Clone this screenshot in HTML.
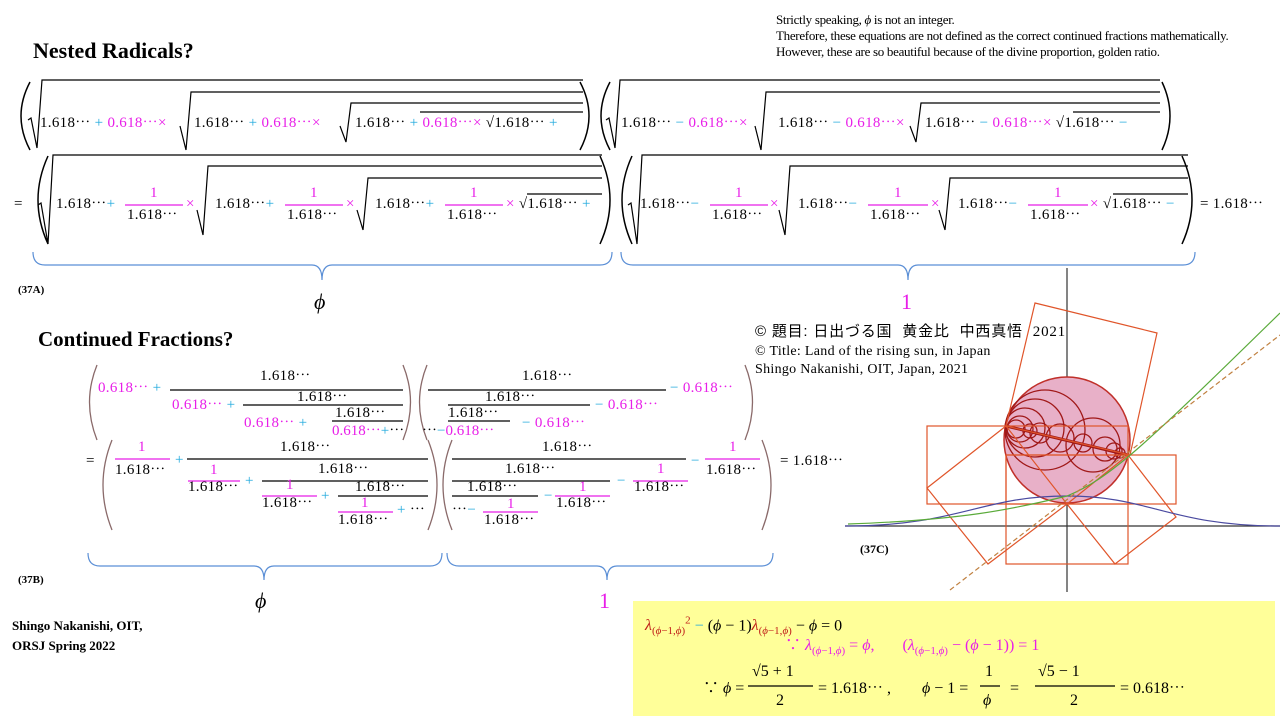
<!DOCTYPE html>
<html><head><meta charset="utf-8"><style>
body{margin:0;width:1280px;height:720px;background:#fff;position:relative;overflow:hidden;font-family:"Liberation Serif","Noto Serif CJK SC",serif;}
.t{position:absolute;white-space:nowrap;font-size:15px;letter-spacing:0.3px;line-height:16px;margin-top:-8px;color:#000;}
.m{color:#e81ee8}.c{color:#22aadd}.r{color:#c0201a}
.b{font-weight:bold;letter-spacing:0}
.i{font-style:italic}
svg{position:absolute;left:0;top:0}
.y{font-size:16px;line-height:20px;margin-top:-10px;letter-spacing:0}
</style></head><body>
<svg width="1280" height="720" viewBox="0 0 1280 720" fill="none" stroke="#000" stroke-width="1.2">
<rect x="633" y="601" width="642" height="115" fill="#ffff99" stroke="none"/>
<g stroke-width="1.5">
<path d="M30 82 Q12 116 30 150"/><path d="M580 82 Q598 116 580 150"/>
<path d="M610 82 Q592 116 610 150"/><path d="M1162 82 Q1178 116 1162 150"/>
<path d="M48 156 Q28 200 48 244"/><path d="M600 156 Q620 200 600 244"/>
<path d="M632 156 Q612 200 632 244"/><path d="M1182 156 Q1202 200 1182 244"/>
</g>
<polyline points="28,120 31,118 37,148 42,80 583,80"/>
<polyline points="180,126 186,150 191,92 583,92"/>
<polyline points="340,126 346,142 351,103 583,103"/>
<line x1="420" y1="112" x2="583" y2="112"/>
<polyline points="606,120 609,118 615,148 620,80 1160,80"/>
<polyline points="755,126 761,150 766,92 1160,92"/>
<polyline points="910,126 916,142 921,103 1160,103"/>
<line x1="1073" y1="112" x2="1160" y2="112"/>
<polyline points="38,205 41,203 48,244 53,155 602,155"/>
<polyline points="197,210 203,235 208,166 602,166"/>
<polyline points="357,210 363,230 368,178 602,178"/>
<line x1="527" y1="194" x2="602" y2="194"/>
<polyline points="628,205 631,203 637,244 642,155 1188,155"/>
<polyline points="779,210 785,235 790,166 1188,166"/>
<polyline points="939,210 945,230 950,178 1188,178"/>
<line x1="1113" y1="194" x2="1188" y2="194"/>
<g stroke="#e81ee8"><line x1="125" y1="205" x2="183" y2="205"/><line x1="285" y1="205" x2="343" y2="205"/><line x1="445" y1="205" x2="503" y2="205"/>
<line x1="710" y1="205" x2="768" y2="205"/><line x1="868" y1="205" x2="928" y2="205"/><line x1="1028" y1="205" x2="1088" y2="205"/></g>
<g stroke="#5b8fd6">
<path d="M33 252 Q33 265 45 265 L312 265 Q322 265 322 280 Q322 265 332 265 L600 265 Q612 265 612 252"/>
<path d="M621 252 Q621 265 633 265 L898 265 Q908 265 908 280 Q908 265 918 265 L1183 265 Q1195 265 1195 252"/>
<path d="M88 553 Q88 566 100 566 L254 566 Q264 566 264 580 Q264 566 274 566 L430 566 Q442 566 442 553"/>
<path d="M447 553 Q447 566 459 566 L597 566 Q607 566 607 580 Q607 566 617 566 L761 566 Q773 566 773 553"/>
</g>
<g stroke="#8a6a6a" stroke-width="1.3">
<path d="M97 365 Q82 402 97 440"/><path d="M403 365 Q418 402 403 440"/>
<path d="M427 365 Q412 402 427 440"/><path d="M745 365 Q760 402 745 440"/>
<path d="M112 440 Q94 485 112 530"/><path d="M428 440 Q446 485 428 530"/>
<path d="M452 440 Q434 485 452 530"/><path d="M762 440 Q780 485 762 530"/>
</g>
<line x1="170" y1="390" x2="403" y2="390"/><line x1="243" y1="405" x2="403" y2="405"/><line x1="332" y1="421" x2="403" y2="421"/>
<line x1="428" y1="390" x2="666" y2="390"/><line x1="448" y1="405" x2="590" y2="405"/><line x1="448" y1="421" x2="510" y2="421"/>
<line x1="187" y1="459" x2="428" y2="459"/><line x1="262" y1="481" x2="428" y2="481"/><line x1="338" y1="496" x2="428" y2="496"/>
<line x1="452" y1="459" x2="686" y2="459"/><line x1="452" y1="481" x2="610" y2="481"/><line x1="452" y1="496" x2="538" y2="496"/>
<g stroke="#e81ee8"><line x1="115" y1="459" x2="170" y2="459"/><line x1="188" y1="481" x2="240" y2="481"/><line x1="262" y1="496" x2="317" y2="496"/><line x1="338" y1="512" x2="393" y2="512"/>
<line x1="705" y1="459" x2="760" y2="459"/><line x1="633" y1="481" x2="688" y2="481"/><line x1="555" y1="496" x2="610" y2="496"/><line x1="483" y1="512" x2="538" y2="512"/></g>
<line x1="748" y1="686" x2="813" y2="686"/><line x1="980" y1="686" x2="1000" y2="686"/><line x1="1035" y1="686" x2="1115" y2="686"/>
<line x1="1067" y1="268" x2="1067" y2="592" stroke="#333"/>
<line x1="845" y1="526" x2="1280" y2="526" stroke="#333"/>
<circle cx="1067" cy="440" r="63" fill="#e8b0c8" stroke="#c0302a" stroke-width="1.5"/>
<g stroke="#a01818" stroke-width="1.3">
<circle cx="1045" cy="430" r="40"/><circle cx="1035" cy="428" r="29"/><circle cx="1025" cy="428" r="20"/><circle cx="1020" cy="429" r="13"/><circle cx="1016" cy="429" r="9"/>
<circle cx="1093" cy="445" r="27"/><circle cx="1060" cy="438" r="14"/><circle cx="1040" cy="433" r="10"/><circle cx="1030" cy="431" r="7"/>
<circle cx="1105" cy="449" r="12"/><circle cx="1114" cy="451" r="8"/><circle cx="1120" cy="453" r="5"/><circle cx="1083" cy="443" r="9"/>
<line x1="1006" y1="426" x2="1128" y2="455" stroke-width="3"/>
</g>
<g stroke="#e0552a" stroke-width="1.2">
<polygon points="1035,303 1157,333 1130,455 1006,426"/>
<rect x="927" y="426" width="201" height="78"/>
<rect x="1006" y="455" width="170" height="49"/>
<rect x="1006" y="455" width="122" height="109"/>
<polygon points="927,488 1006,426 1067,504 988,564"/>
<polygon points="1128,455 1176,517 1115,564 1067,504"/>
</g>
<path d="M845 526 C960 526 980 496 1067 496 C1150 496 1170 526 1280 526" stroke="#4a4aa0"/>
<path d="M848 524 C960 520 1010 510 1067 496 C1110 478 1140 450 1280 313" stroke="#5aaa3a"/>
<line x1="950" y1="590" x2="1280" y2="335" stroke="#c08040" stroke-dasharray="5,3"/>
</svg>

<div class="t" style="left:776px;top:20px;font-size:13px;letter-spacing:-0.3px">Strictly speaking, <i>ϕ</i> is not an integer.</div>
<div class="t" style="left:776px;top:36px;font-size:13px;letter-spacing:-0.3px">Therefore,  these equations are not defined as the correct continued fractions mathematically.</div>
<div class="t" style="left:776px;top:52px;font-size:13px;letter-spacing:-0.3px">However,  these are so beautiful because of the divine proportion, golden ratio.</div>
<div class="t b" style="left:33px;top:51px;font-size:22px;line-height:26px;margin-top:-13px">Nested Radicals?</div>
<div class="t b" style="left:38px;top:339px;font-size:21px;line-height:26px;margin-top:-13px">Continued Fractions?</div>

<div class="t" style="left:40px;top:123px">1.618⋯<span class="c"> + </span><span class="m">0.618⋯×</span></div>
<div class="t" style="left:194px;top:123px">1.618⋯<span class="c"> + </span><span class="m">0.618⋯×</span></div>
<div class="t" style="left:355px;top:123px">1.618⋯<span class="c"> + </span><span class="m">0.618⋯×</span> √1.618⋯<span class="c"> +</span></div>
<div class="t" style="left:621px;top:123px">1.618⋯<span class="c"> − </span><span class="m">0.618⋯×</span></div>
<div class="t" style="left:778px;top:123px">1.618⋯<span class="c"> − </span><span class="m">0.618⋯×</span></div>
<div class="t" style="left:925px;top:123px">1.618⋯<span class="c"> − </span><span class="m">0.618⋯×</span> √1.618⋯<span class="c"> −</span></div>

<div class="t" style="left:14px;top:204px">=</div>
<div class="t" style="left:56px;top:204px">1.618⋯<span class="c">+</span></div>
<div class="t m" style="left:150px;top:193px">1</div><div class="t" style="left:127px;top:215px">1.618⋯</div>
<div class="t m" style="left:186px;top:204px">×</div>
<div class="t" style="left:215px;top:204px">1.618⋯<span class="c">+</span></div>
<div class="t m" style="left:310px;top:193px">1</div><div class="t" style="left:287px;top:215px">1.618⋯</div>
<div class="t m" style="left:346px;top:204px">×</div>
<div class="t" style="left:375px;top:204px">1.618⋯<span class="c">+</span></div>
<div class="t m" style="left:470px;top:193px">1</div><div class="t" style="left:447px;top:215px">1.618⋯</div>
<div class="t" style="left:506px;top:204px"><span class="m">×</span> √1.618⋯<span class="c"> +</span></div>

<div class="t" style="left:640px;top:204px">1.618⋯<span class="c">−</span></div>
<div class="t m" style="left:735px;top:193px">1</div><div class="t" style="left:712px;top:215px">1.618⋯</div>
<div class="t m" style="left:770px;top:204px">×</div>
<div class="t" style="left:798px;top:204px">1.618⋯<span class="c">−</span></div>
<div class="t m" style="left:894px;top:193px">1</div><div class="t" style="left:870px;top:215px">1.618⋯</div>
<div class="t m" style="left:931px;top:204px">×</div>
<div class="t" style="left:958px;top:204px">1.618⋯<span class="c">−</span></div>
<div class="t m" style="left:1054px;top:193px">1</div><div class="t" style="left:1030px;top:215px">1.618⋯</div>
<div class="t" style="left:1090px;top:204px"><span class="m">×</span> √1.618⋯<span class="c"> −</span></div>
<div class="t" style="left:1200px;top:204px">= 1.618⋯</div>

<div class="t b" style="left:18px;top:290px;font-size:11px">(37A)</div>
<div class="t i" style="left:314px;top:302px;font-size:22px;line-height:24px;margin-top:-12px">ϕ</div>
<div class="t m" style="left:901px;top:302px;font-size:22px;line-height:24px;margin-top:-12px">1</div>

<div class="t" style="left:755px;top:332px;font-family:'Liberation Sans','Noto Sans CJK JP',sans-serif;font-size:15px;letter-spacing:0.8px">© 題目: 日出づる国 &nbsp;黄金比 &nbsp;中西真悟 &nbsp;<span style="font-family:'Liberation Serif',serif">2021</span></div>
<div class="t" style="left:755px;top:352px;font-size:14px">© Title:  Land of the rising  sun, in Japan</div>
<div class="t" style="left:755px;top:370px;font-size:14px">Shingo  Nakanishi,  OIT, Japan, 2021</div>
<div class="t b" style="left:860px;top:549px;font-size:12px">(37C)</div>

<div class="t m" style="left:98px;top:388px">0.618⋯<span class="c"> +</span></div>
<div class="t" style="left:260px;top:376px">1.618⋯</div>
<div class="t m" style="left:172px;top:405px">0.618⋯<span class="c"> +</span></div>
<div class="t" style="left:297px;top:397px">1.618⋯</div>
<div class="t m" style="left:244px;top:423px">0.618⋯<span class="c"> +</span></div>
<div class="t" style="left:335px;top:413px">1.618⋯</div>
<div class="t m" style="left:332px;top:431px;letter-spacing:0">0.618⋯<span class="c">+</span><span style="color:#000">⋯</span></div>
<div class="t" style="left:522px;top:376px">1.618⋯</div>
<div class="t m" style="left:670px;top:388px"><span class="c">− </span>0.618⋯</div>
<div class="t" style="left:485px;top:397px">1.618⋯</div>
<div class="t m" style="left:595px;top:405px"><span class="c">− </span>0.618⋯</div>
<div class="t" style="left:448px;top:413px">1.618⋯</div>
<div class="t m" style="left:522px;top:423px"><span class="c">− </span>0.618⋯</div>
<div class="t" style="left:422px;top:431px;letter-spacing:0">⋯<span class="c">−</span><span class="m">0.618⋯</span></div>

<div class="t" style="left:86px;top:461px">=</div>
<div class="t m" style="left:138px;top:447px">1</div><div class="t" style="left:115px;top:470px">1.618⋯</div>
<div class="t c" style="left:175px;top:460px">+</div>
<div class="t" style="left:280px;top:447px">1.618⋯</div>
<div class="t m" style="left:210px;top:470px">1</div><div class="t" style="left:188px;top:487px">1.618⋯</div>
<div class="t c" style="left:245px;top:481px">+</div>
<div class="t" style="left:318px;top:469px">1.618⋯</div>
<div class="t m" style="left:286px;top:485px">1</div><div class="t" style="left:262px;top:503px">1.618⋯</div>
<div class="t c" style="left:321px;top:496px">+</div>
<div class="t" style="left:355px;top:487px">1.618⋯</div>
<div class="t m" style="left:361px;top:503px">1</div><div class="t" style="left:338px;top:520px">1.618⋯</div>
<div class="t" style="left:397px;top:510px"><span class="c">+</span> ⋯</div>

<div class="t" style="left:542px;top:447px">1.618⋯</div>
<div class="t c" style="left:691px;top:461px">−</div>
<div class="t m" style="left:729px;top:447px">1</div><div class="t" style="left:706px;top:470px">1.618⋯</div>
<div class="t" style="left:780px;top:461px">= 1.618⋯</div>
<div class="t" style="left:505px;top:469px">1.618⋯</div>
<div class="t c" style="left:617px;top:481px">−</div>
<div class="t m" style="left:657px;top:469px">1</div><div class="t" style="left:634px;top:487px">1.618⋯</div>
<div class="t" style="left:467px;top:487px">1.618⋯</div>
<div class="t c" style="left:544px;top:496px">−</div>
<div class="t m" style="left:579px;top:487px">1</div><div class="t" style="left:556px;top:503px">1.618⋯</div>
<div class="t" style="left:452px;top:510px">⋯<span class="c">−</span></div>
<div class="t m" style="left:507px;top:504px">1</div><div class="t" style="left:484px;top:520px">1.618⋯</div>

<div class="t b" style="left:18px;top:580px;font-size:11px">(37B)</div>
<div class="t i" style="left:255px;top:601px;font-size:22px;line-height:24px;margin-top:-12px">ϕ</div>
<div class="t m" style="left:599px;top:601px;font-size:22px;line-height:24px;margin-top:-12px">1</div>
<div class="t b" style="left:12px;top:626px;font-size:13px">Shingo Nakanishi, OIT,</div>
<div class="t b" style="left:12px;top:646px;font-size:13px">ORSJ Spring  2022</div>

<div class="t y" style="left:645px;top:621px"><span class="r"><i>λ</i><sub style="font-size:11px">(<i>ϕ</i>−1,<i>ϕ</i>)</sub><sup style="font-size:11px">2</sup></span><span class="c"> − </span>(<i>ϕ</i> − 1)<span class="r"><i>λ</i><sub style="font-size:11px">(<i>ϕ</i>−1,<i>ϕ</i>)</sub></span> − <i>ϕ</i> = 0</div>
<div class="t m y" style="left:785px;top:646px">∵ <i>λ</i><sub style="font-size:11px">(<i>ϕ</i>−1,<i>ϕ</i>)</sub> = <i>ϕ</i>,&nbsp;&nbsp;&nbsp;&nbsp;&nbsp;&nbsp;&nbsp;(<i>λ</i><sub style="font-size:11px">(<i>ϕ</i>−1,<i>ϕ</i>)</sub> − (<i>ϕ</i> − 1)) = 1</div>
<div class="t y" style="left:703px;top:689px">∵ <i>ϕ</i> =</div>
<div class="t y" style="left:752px;top:672px">√5 + 1</div>
<div class="t y" style="left:776px;top:701px">2</div>
<div class="t y" style="left:818px;top:689px">= 1.618⋯ ,</div>
<div class="t y" style="left:922px;top:689px"><i>ϕ</i> − 1 =</div>
<div class="t y" style="left:985px;top:672px">1</div>
<div class="t y" style="left:983px;top:701px"><i>ϕ</i></div>
<div class="t y" style="left:1010px;top:689px">=</div>
<div class="t y" style="left:1038px;top:672px">√5 − 1</div>
<div class="t y" style="left:1070px;top:701px">2</div>
<div class="t y" style="left:1120px;top:689px">= 0.618⋯</div>
</body></html>
